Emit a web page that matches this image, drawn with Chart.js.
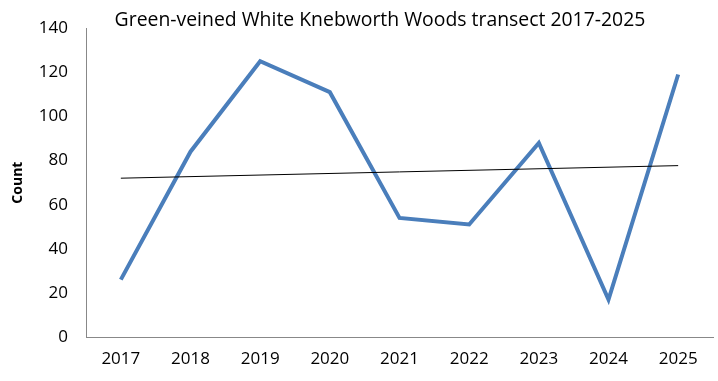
<!DOCTYPE html>
<html>
<head>
<meta charset="utf-8">
<script src="https://cdn.jsdelivr.net/npm/chart.js@4"></script>
<style>
  html, body { margin: 0; padding: 0; background: #fff; }
  #wrap { width: 718px; height: 381px; }
</style>
</head>
<body>
<div id="wrap"><canvas id="Chart_1"></canvas></div>
<script>
var years = ['2017', '2018', '2019', '2020', '2021', '2022', '2023', '2024', '2025'];
var counts = [26, 84, 125, 111, 54, 51, 88, 17, 119];
// trend line end points
var trend = [72, null, null, null, null, null, null, null, 77.7];
var yTicks = [0, 20, 40, 60, 80, 100, 120, 140];
var chartTitle = 'Green-veined White Knebworth Woods transect 2017-2025';

var titlePlugin = {
    id: 'titleText',
    afterDraw: function (chart) {
        var c = chart.ctx;
        c.save();
        c.font = '19.4px "Open Sans"';
        c.fillStyle = '#000';
        c.textAlign = 'center';
        c.textBaseline = 'middle';
        c.fillText(chartTitle, 380, 20);
        c.restore();
    }
};

var ctx = document.getElementById('Chart_1');
var chart = new Chart(ctx, {
    type: 'line',
    data: {
        labels: years,
        datasets: [{
            label: 'Count',
            data: counts,
            borderColor: '#4a7ebb',
            borderWidth: 4,
            pointRadius: 0,
            tension: 0,
            order: 2
        }, {
            label: 'Trend',
            data: trend,
            borderColor: '#000',
            borderWidth: 1,
            pointRadius: 0,
            spanGaps: true,
            order: 1
        }]
    },
    options: {
        responsive: true,
        maintainAspectRatio: false,
        animation: false,
        layout: { padding: { top: 23, right: 5, left: 0, bottom: 0 } },
        plugins: {
            legend: { display: false },
            tooltip: { enabled: false }
        },
        scales: {
            x: {
                offset: true,
                grid: { display: false, drawTicks: false },
                border: { display: true, color: '#888', width: 1 },
                ticks: { color: '#000', padding: 12, font: { family: 'Open Sans', size: 17 } },
                afterFit: function (s) { s.height = 44; }
            },
            y: {
                min: 0,
                max: 140,
                afterBuildTicks: function (s) { s.ticks = yTicks.map(function (v) { return { value: v }; }); },
                grid: { display: false, drawTicks: false },
                border: { display: true, color: '#888', width: 1 },
                ticks: { color: '#000', padding: 18, font: { family: 'Open Sans', size: 17 } },
                title: {
                    display: true,
                    text: 'Count',
                    color: '#000',
                    padding: { top: 10, bottom: 0 },
                    font: { family: 'Open Sans', size: 14, weight: 'bold' }
                },
                afterFit: function (s) { s.width = 86; }
            }
        }
    },
    plugins: [titlePlugin]
});
</script>
</body>
</html>
